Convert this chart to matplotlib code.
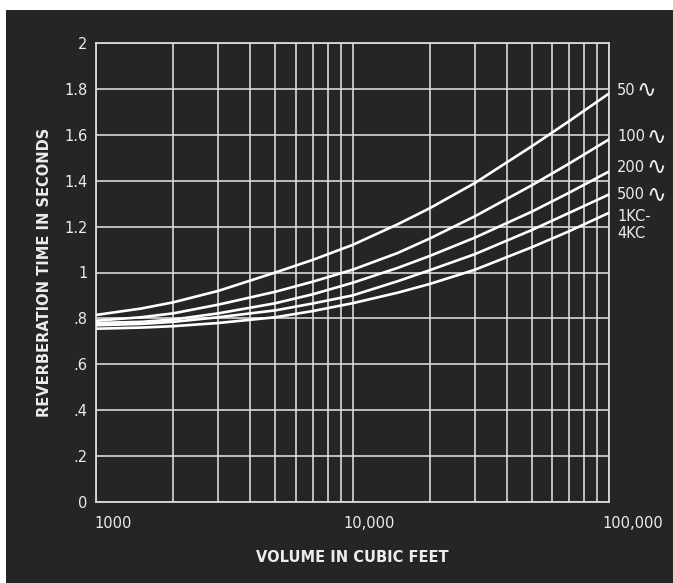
import matplotlib
matplotlib.use("Agg")
import matplotlib.pyplot as plt
import matplotlib.transforms as mtransforms
from matplotlib.patches import Rectangle
from matplotlib.ticker import FixedLocator, NullFormatter

# ---- data ----
volume = [1000, 1500, 2000, 3000, 5000, 7000, 10000, 15000, 20000, 30000, 50000, 70000, 100000]
rt_50 = [0.815, 0.843, 0.87, 0.92, 1.0, 1.055, 1.12, 1.21, 1.28, 1.39, 1.55, 1.66, 1.78]
rt_100 = [0.79, 0.805, 0.822, 0.86, 0.916, 0.96, 1.012, 1.085, 1.148, 1.245, 1.38, 1.475, 1.58]
rt_200 = [0.78, 0.785, 0.795, 0.822, 0.866, 0.905, 0.955, 1.02, 1.072, 1.152, 1.265, 1.348, 1.44]
rt_500 = [0.77, 0.776, 0.785, 0.805, 0.835, 0.865, 0.90, 0.962, 1.01, 1.08, 1.185, 1.26, 1.34]
rt_1k4k = [0.755, 0.76, 0.766, 0.78, 0.805, 0.832, 0.866, 0.912, 0.95, 1.012, 1.11, 1.18, 1.26]

series = [rt_50, rt_100, rt_200, rt_500, rt_1k4k]
label_nums = ["50", "100", "200", "500"]
label_num_y = [1.795, 1.592, 1.458, 1.338]
kc_labels = ["1KC-", "4KC"]
kc_y = [1.246, 1.17]

y_ticks = [0, 0.2, 0.4, 0.6, 0.8, 1.0, 1.2, 1.4, 1.6, 1.8, 2.0]
y_ticklabels = ["0", ".2", ".4", ".6", ".8", "1", "1.2", "1.4", "1.6", "1.8", "2"]
x_ticks = [1000, 10000, 100000]
x_ticklabels = ["1000", "10,000", "100,000"]
x_minor = [m * d for d in (1000, 10000) for m in range(2, 10)]

BG = "#252525"
GRID = "#d9d9d9"
TXT = "#ececec"
FS = 10.5

fig = plt.figure(figsize=(6.73, 5.83), dpi=100, facecolor="white")
bg = Rectangle((6 / 673, 0), 1, 1 - 10 / 583, transform=fig.transFigure,
               facecolor=BG, edgecolor="none", zorder=-10)
fig.add_artist(bg)

ax = fig.add_axes([96 / 673, 1 - 502 / 583, 513 / 673, 459 / 583])
ax.set_facecolor(BG)
ax.set_xscale("log")
ax.set_xlim(1000, 100000)
ax.set_ylim(0, 2)

ax.xaxis.set_major_locator(FixedLocator(x_ticks))
ax.xaxis.set_minor_locator(FixedLocator(x_minor))
ax.xaxis.set_minor_formatter(NullFormatter())
ax.set_xticklabels(x_ticklabels)
ax.set_yticks(y_ticks)
ax.set_yticklabels(y_ticklabels)

ax.grid(True, which="both", axis="x", color=GRID, lw=1.2)
ax.grid(True, which="major", axis="y", color=GRID, lw=1.2)
ax.set_axisbelow(True)
for s in ax.spines.values():
    s.set_color(GRID)
    s.set_linewidth(1.3)

ax.tick_params(axis="both", which="both", length=0, colors=TXT, labelsize=FS)
ax.tick_params(axis="y", pad=6)
ax.tick_params(axis="x", pad=10)

offsets = [-2, -9, -7]
for lab, off in zip(ax.get_xticklabels(), offsets):
    lab.set_horizontalalignment("left")
    lab.set_transform(lab.get_transform() + mtransforms.ScaledTranslation(off / 100, 0, fig.dpi_scale_trans))

for ys in series:
    ax.plot(volume, ys, color="white", lw=1.9, solid_capstyle="round",
            solid_joinstyle="round", zorder=3)

ytr = ax.get_yaxis_transform()
for num, yv in zip(label_nums, label_num_y):
    ax.text(1.016, yv, num, transform=ytr, color=TXT, fontsize=FS,
            va="center", ha="left", clip_on=False)
    w_pts = len(num) * 0.636 * FS + 0.8
    ax.annotate("\u223f", xy=(1.016, yv), xycoords=ytr, xytext=(w_pts, 0),
                textcoords="offset points", color=TXT, fontsize=17,
                va="center", ha="left", annotation_clip=False)
for txt, yv in zip(kc_labels, kc_y):
    ax.text(1.016, yv, txt, transform=ytr, color=TXT, fontsize=FS,
            va="center", ha="left", clip_on=False)

ax.set_xlabel("VOLUME IN CUBIC FEET", color=TXT, fontsize=FS, fontweight="bold", labelpad=14)
ax.set_ylabel("REVERBERATION TIME IN SECONDS", color=TXT, fontsize=FS, fontweight="bold", labelpad=9)

fig.savefig("out.png", dpi=100, facecolor=fig.get_facecolor())
